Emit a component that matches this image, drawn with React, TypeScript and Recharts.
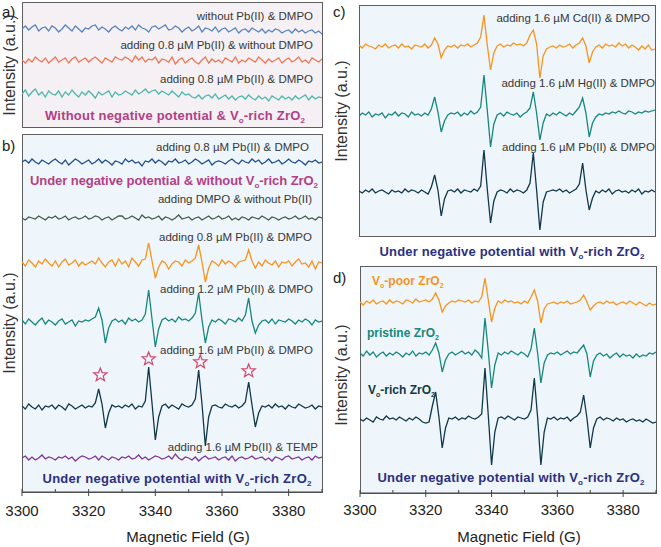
import React from 'react';
import { LineChart, Line, XAxis, YAxis, ReferenceDot } from 'recharts';

// Magnetic field (G), 1 G step
const FIELD = [
  3300, 3301, 3302, 3303, 3304, 3305, 3306, 3307, 3308, 3309,
  3310, 3311, 3312, 3313, 3314, 3315, 3316, 3317, 3318, 3319,
  3320, 3321, 3322, 3323, 3324, 3325, 3326, 3327, 3328, 3329,
  3330, 3331, 3332, 3333, 3334, 3335, 3336, 3337, 3338, 3339,
  3340, 3341, 3342, 3343, 3344, 3345, 3346, 3347, 3348, 3349,
  3350, 3351, 3352, 3353, 3354, 3355, 3356, 3357, 3358, 3359,
  3360, 3361, 3362, 3363, 3364, 3365, 3366, 3367, 3368, 3369,
  3370, 3371, 3372, 3373, 3374, 3375, 3376, 3377, 3378, 3379,
  3380, 3381, 3382, 3383, 3384, 3385, 3386, 3387, 3388, 3389,
  3390,
];
const TICKS = [3300, 3310, 3320, 3330, 3340, 3350, 3360, 3370, 3380, 3390];
const TICK_LABELS = [3300, 3320, 3340, 3360, 3380];

// ---- panel a : without negative potential & Vo-rich ZrO2 ----
const A_NO_PB_NO_DMPO = [
  0, 3, -1, 2, 4, -2, 1, 2, -2, 3,
  1, -3, 0, 4, 1, -2, 3, 0, -3, 1,
  0, 3, 4, -1, 2, 0, -3, 1, 3, 0,
  -2, 2, 0, 3, -1, 4, 1, 0, -3, 2,
  3, 0, 2, 4, -1, 0, 3, 1, -3, 0,
  2, -2, 0, 3, -3, 1, 0, -2, 2, -3,
  0, 1, -3, -1, 1, -4, -1, 0, -3, 1,
  -1, -3, 0, -4, -1, -3, 0, -1, -4, -2,
  -1, -4, 0, -3, -1, -4, -2, -1, -4, -2,
  -5,
];
const A_PB08_NO_DMPO = [
  0, -3, 1, -2, 3, 0, -2, 2, -3, 0,
  3, -2, 0, 2, -3, 1, 3, -2, 0, 2,
  -2, 1, 3, 0, -3, 2, 0, -2, 3, 1,
  0, 3, 1, -2, 4, 0, 3, -2, 1, 0,
  3, -3, 1, 0, -2, 3, -4, 0, 2, -3,
  0, 2, -2, -4, 0, 3, -3, 1, -2, 0,
  -3, 2, 0, -2, 3, -3, 0, -2, 2, 0,
  -2, 3, 0, -3, 1, -2, 0, 2, -3, 0,
  2, -2, 0, 3, -2, 0, -3, 2, 0, -2,
  1,
];
const A_PB08_DMPO = [
  1, 5, -1, 3, 6, 0, 3, -2, 4, 1,
  0, 4, -2, 3, 0, 5, 1, -2, 3, 0,
  4, 1, -3, 3, 0, 2, 4, -2, 3, 0,
  1, 4, 2, 0, 5, 1, 3, 6, 2, 4,
  5, 1, 4, 2, 0, 4, 1, -2, 3, 0,
  1, -2, -3, 0, -4, -1, 0, -3, 1, -4,
  -2, 0, -4, -1, -5, -2, -1, -4, 0, -3,
  -5, -1, -4, -2, -6, -1, -3, -5, -1, -4,
  -2, -5, -1, -4, -2, 0, -5, -1, -4, -2,
  -3,
];

// ---- panel b : under negative potential ----
const B_PB08_DMPO_NO_ZRO2 = [
  0, 2, -1, 3, 0, -2, 2, 0, -2, 1,
  3, 0, -2, 2, -3, 0, 3, 1, -2, 0,
  2, -2, 0, 3, -1, 2, 0, -3, 1, 0,
  -2, 3, 0, 2, -1, 0, -4, 1, 0, 3,
  -1, 2, 0, -3, 1, 0, 3, -1, 0, 2,
  -2, 0, 3, 1, -2, 0, 2, -3, 0, 1,
  0, -2, 1, 3, 0, -2, 2, 0, -1, 3,
  0, 2, -2, 0, 3, -1, 0, 2, -2, 0,
  3, 0, -1, 2, 0, -3, 1, 0, 2, -1,
  0,
];
const B_DMPO_NO_PB = [
  0, -2, 1, 0, -1, 2, 0, -2, 1, 0,
  2, -1, 0, 2, -2, 0, 1, -1, 0, 2,
  -1, 0, 2, 1, -2, 0, 1, -2, 0, 2,
  2, -1, 0, 2, 0, -2, 3, 0, 1, -1,
  0, 2, -2, 1, 0, -2, 0, 3, -1, 0,
  1, -2, 0, 1, -2, 0, 2, -1, 0, 2,
  -1, 0, 2, -2, 0, -2, 1, 0, -2, 1,
  0, -1, 2, 0, -2, 1, 0, -2, 0, 1,
  -1, 0, 2, -1, 0, 2, -1, 0, -2, 1,
  0,
];
const B_PB08_DMPO = [
  1, -3, 3, 0, -4, 2, -1, 4, 0, -3,
  2, -4, 1, 4, -2, 0, 3, -3, 1, -2,
  0, 2, -1, 5, 0, -4, 1, 3, -3, 4,
  -1, 2, -4, 5, 1, -3, 3, 4, 20, 2,
  -15, -4, 2, 0, -6, -1, 2, 1, -3, 3,
  0, 2, 5, 18, 1, -19, -5, 2, 0, -3,
  3, -1, 2, 0, -4, 1, 2, 3, 13, 2,
  -5, 1, -3, 3, 0, -2, 2, -4, 1, 0,
  2, -3, 1, 4, -1, 0, -4, 2, -6, 1,
  0,
];
const B_PB12_DMPO = [
  2, -2, 3, 0, -3, 1, 4, -2, 2, 0,
  -3, 1, 3, -2, 0, 2, -4, 1, 0, 2,
  1, 3, 5, 14, 2, -21, -6, 1, 3, 0,
  2, -2, 4, 1, 3, 0, 2, 8, 32, 3,
  -25, -7, 2, 4, 1, 3, 0, 5, 2, 3,
  1, 4, 9, 29, 2, -21, -5, 2, 0, 3,
  1, -2, 3, 2, 0, 4, 1, 7, 24, 1,
  -11, -3, 1, 2, -1, 3, -2, 2, 1, 0,
  3, 1, -2, 2, 0, 3, 1, -3, 2, 0,
  1,
];
const B_PB16_DMPO = [
  1, -2, 3, 0, -2, 2, -3, 1, 0, 2,
  -2, 2, 0, -3, 3, 1, -2, 0, 2, -1,
  1, 0, 4, 18, 3, -21, -6, 2, 0, 1,
  -1, 2, 0, 3, -2, 1, 0, 6, 40, 4,
  -33, -10, 1, 3, -1, 2, 0, -2, 3, 1,
  0, 2, 8, 37, 3, -39, -10, 1, 2, 0,
  -1, 3, 1, 0, 2, -1, 1, 5, 25, 2,
  -20, -6, 1, 0, 2, -1, 3, 0, 1, -2,
  2, 0, -1, 3, 1, -1, 0, 2, -2, 1,
  0,
];
const B_PB16_TEMP = [
  0, 2, -2, 1, -2, 0, 3, -1, 1, 0,
  -2, 1, 0, 2, -1, 1, -3, 0, 2, 1,
  -1, 0, 2, -2, 2, 0, -2, 1, 0, -2,
  1, 0, 2, -1, 0, 3, -1, 1, -2, 0,
  2, 1, -1, 0, 2, -1, 4, 0, -2, 1,
  0, -2, 1, -3, 0, 2, -1, 0, 1, -2,
  0, 1, -2, 2, -3, 0, 1, -1, 0, 2,
  -1, 0, 1, -2, 0, -3, 1, 0, -2, 1,
  2, -1, 0, 1, -2, 0, 1, -2, 2, 0,
  1,
];
// DMPO-OH quartet markers (field, intensity)
const STAR_FIELD = [3323.5, 3338, 3353.5, 3368];
const STAR_LEVEL = [117, 133, 130, 121];

// ---- panel c : different metal ions, 1.6 µM ----
const C_CD16 = [
  2, -1, 3, 1, 0, -2, 2, 0, 3, -1,
  1, 2, -1, 3, 0, 1, -2, 2, 1, 0,
  3, -1, 2, 9, 3, -11, -3, 1, 0, 2,
  -1, 2, 1, 3, 0, 2, 4, 10, 32, 2,
  -23, -6, 1, 3, 0, 2, 1, 4, 2, 3,
  1, 4, 12, 17, 3, -31, -9, -2, 0, 1,
  -1, 2, 0, 1, 3, -1, 2, 4, 9, 1,
  -16, -5, 0, 2, -1, 3, 1, 2, 0, 4,
  1, 3, -1, 2, 0, -3, 1, -2, 2, -3,
  -2,
];
const C_HG16 = [
  -1, 2, 0, 3, -2, 1, 0, 2, -3, 1,
  0, 3, -1, 2, 1, -2, 3, 0, 1, -1,
  2, 0, 6, 18, 3, -17, -6, 0, 2, 1,
  3, -1, 2, 0, 4, 1, 3, 8, 40, 5,
  -32, -9, 0, 2, -1, 3, 1, 0, 2, -2,
  1, 3, 7, 23, 2, -25, -8, 1, -1, 2,
  0, 3, 1, -1, 2, 0, 4, 8, 17, 2,
  -22, -8, -2, 1, 0, 2, 1, 3, 2, 4,
  2, 1, 4, 3, 1, 3, 2, 4, 3, 4,
  5,
];
const C_PB16 = [
  1, -1, 2, 0, 3, -1, 1, 2, 0, -2,
  2, 0, 1, -1, 3, 0, 2, 1, -1, 2,
  0, -2, 5, 17, 2, -24, -7, 1, 2, 0,
  3, -1, 2, 1, 0, 3, 1, 6, 42, 3,
  -31, -9, 0, 2, 1, -1, 3, 0, 2, 1,
  -1, 2, 9, 39, 2, -38, -10, 0, 1, 2,
  1, 3, 0, 2, -1, 1, 3, 8, 29, 2,
  -18, -6, 1, -1, 2, 0, 3, -2, 1, 2,
  0, 1, -1, 2, 0, 3, -2, 1, 0, 2,
  0,
];

// ---- panel d : different ZrO2 ----
const D_VO_POOR = [
  1, -2, 2, 0, 3, -1, 1, 2, -1, 3,
  0, 2, 1, -1, 3, 2, 0, 4, 1, 2,
  3, 1, 4, 10, 3, -9, -3, 0, 2, 1,
  3, 2, 1, 3, 0, 2, 1, 6, 25, 3,
  -19, -5, 2, 0, 3, 1, 2, 0, 1, -1,
  2, 0, 6, 13, 2, -20, -6, -1, 0, 1,
  -1, 1, 0, 2, -1, 0, 1, 3, 8, 1,
  -7, -3, 0, 1, -1, 2, 0, 1, -2, 0,
  1, -1, 2, 0, -2, 1, -1, -3, 0, -2,
  -1,
];
const D_PRISTINE = [
  2, -1, 4, 0, 3, -2, 1, 3, -1, 2,
  0, 3, 1, -2, 2, 0, 4, -1, 2, 1,
  3, 0, 5, 12, 2, -17, -5, 1, 3, 0,
  2, 4, 1, 3, 0, 5, 2, -3, 37, 4,
  -33, -10, 2, 0, 3, 1, 4, 2, 0, 3,
  1, -2, 6, 27, 2, -28, -8, 0, 2, 1,
  3, 0, 2, 4, 1, 3, 2, 6, 10, 1,
  -22, -6, 0, 2, -1, 1, -3, 0, 2, -2,
  1, -1, 0, -3, 1, -2, 0, -1, 2, 1,
  3,
];
const D_VO_RICH = [
  1, -1, 2, 0, -2, 3, 1, 0, 4, 1,
  2, 0, 3, 1, -1, 2, 0, 3, 1, -2,
  -3, -2, 14, 28, 3, -28, -8, 2, 1, 3,
  0, 2, 1, 4, 2, 1, 3, 6, 52, 5,
  -45, -12, 2, 3, 1, 4, 2, 0, 3, 2,
  1, 3, 10, 42, 3, -45, -12, 2, 1, 3,
  0, 2, 1, 3, -1, 2, 4, 8, 25, 2,
  -28, -8, 1, 3, 0, 2, 1, -1, 2, 0,
  1, -2, 0, 1, -1, 0, -2, 1, -1, -3,
  -2,
];

const FONT = '"Liberation Sans", Arial, Helvetica, sans-serif';
const ORANGE = '#f7941d';
const TEAL = '#17877d';
const NAVY_T = '#10384a';
const MAGENTA = '#b23f86';
const INDIGO = '#2c2f7f';
const LABEL = '#383838';

type Trace = { key: string; values: number[]; base: number; color: string };

const PANELS = [
  {
    id: 'a', left: 22, top: 2, width: 300, height: 125, bg: '#f4f0f4', axis: false,
    traces: [
      { key: 't1', values: A_NO_PB_NO_DMPO, base: 98, color: '#5b82b9' },
      { key: 't2', values: A_PB08_NO_DMPO, base: 67, color: '#ee7656' },
      { key: 't3', values: A_PB08_DMPO, base: 32, color: '#4db6ad' },
    ] as Trace[],
  },
  {
    id: 'b', left: 22, top: 134, width: 300, height: 358, bg: '#eef5fb', axis: true,
    traces: [
      { key: 't1', values: B_PB08_DMPO_NO_ZRO2, base: 330, color: '#1f4f8f' },
      { key: 't2', values: B_DMPO_NO_PB, base: 274, color: '#425c4b' },
      { key: 't3', values: B_PB08_DMPO, base: 229, color: ORANGE },
      { key: 't4', values: B_PB12_DMPO, base: 170, color: TEAL },
      { key: 't5', values: B_PB16_DMPO, base: 85, color: NAVY_T },
      { key: 't6', values: B_PB16_TEMP, base: 34, color: '#7e3592' },
    ] as Trace[],
  },
  {
    id: 'c', left: 359, top: 5, width: 296, height: 231, bg: '#eef5fb', axis: false,
    traces: [
      { key: 't1', values: C_CD16, base: 189, color: ORANGE },
      { key: 't2', values: C_HG16, base: 121, color: TEAL },
      { key: 't3', values: C_PB16, base: 44, color: NAVY_T },
    ] as Trace[],
  },
  {
    id: 'd', left: 360, top: 266, width: 296, height: 227, bg: '#eef5fb', axis: true,
    traces: [
      { key: 't1', values: D_VO_POOR, base: 190, color: ORANGE },
      { key: 't2', values: D_PRISTINE, base: 138, color: TEAL },
      { key: 't3', values: D_VO_RICH, base: 73, color: NAVY_T },
    ] as Trace[],
  },
];

const PAD = 24;
const AXIS_H = 56;

function Star(props: any) {
  const { cx, cy } = props;
  const pts: string[] = [];
  for (let k = 0; k < 10; k++) {
    const ang = (-90 + k * 36) * Math.PI / 180;
    const r = k % 2 === 0 ? 7 : 3;
    pts.push(`${cx + r * Math.cos(ang)},${cy + r * Math.sin(ang)}`);
  }
  return <polygon points={pts.join(' ')} fill="none" stroke="#d2496f" strokeWidth={1.2} />;
}

function makeTick(labelDy: number) {
  return (props: any) => {
    const { x, y, payload } = props;
    const v = payload.value;
    const major = TICK_LABELS.indexOf(v) >= 0;
    return (
      <g>
        <line x1={x} x2={x} y1={y - 3} y2={major ? y + 4 : y} stroke="#444" strokeWidth={1} />
        {major && (
          <text x={x} y={y + labelDy} textAnchor="middle" fontSize={15} fill="#222" fontFamily={FONT}>
            {v}
          </text>
        )}
      </g>
    );
  };
}

function Panel({ p }: { p: (typeof PANELS)[number] }) {
  const rows = FIELD.map((f, i) => {
    const r: any = { f };
    p.traces.forEach((t) => { r[t.key] = t.base + t.values[i]; });
    return r;
  });
  const chartH = p.height + (p.axis ? AXIS_H : 0);
  return (
    <>
      <div
        style={{
          position: 'absolute', left: p.left, top: p.top, width: p.width + 1, height: p.height + 1,
          background: p.bg, border: '1px solid #5e5e5e', boxSizing: 'border-box',
        }}
      />
      <div style={{ position: 'absolute', left: p.left - PAD, top: p.top }}>
        <LineChart
          width={p.width + 2 * PAD}
          height={chartH}
          data={rows}
          margin={{ top: 0, right: PAD, bottom: 0, left: PAD }}
        >
          <XAxis
            dataKey="f"
            type="number"
            domain={[3300, 3390]}
            ticks={TICKS}
            interval={0}
            hide={!p.axis}
            height={AXIS_H}
            tickSize={0}
            tickMargin={0}
            tickLine={false}
            axisLine={{ stroke: '#444' }}
            tick={makeTick(p.id === 'b' ? 24 : 22)}
            allowDataOverflow
          />
          <YAxis type="number" domain={[0, p.height]} hide allowDataOverflow />
          {p.traces.map((t) => (
            <Line
              key={t.key}
              dataKey={t.key}
              type="linear"
              stroke={t.color}
              strokeWidth={1.3}
              dot={false}
              isAnimationActive={false}
            />
          ))}
          {p.id === 'b' &&
            STAR_FIELD.map((f, i) => (
              <ReferenceDot key={i} x={f} y={STAR_LEVEL[i]} r={7} shape={Star} ifOverflow="visible" />
            ))}
        </LineChart>
      </div>
    </>
  );
}

function Vo({ sub = 8, word = 'rich' }: { sub?: number; word?: string }) {
  return (
    <>
      V<tspan fontSize={sub} dy={3}>o</tspan>
      <tspan dy={-3}>-{word} ZrO</tspan>
      <tspan fontSize={sub} dy={3}>2</tspan>
    </>
  );
}

function Label({ x, y, children, anchor = 'end' }: any) {
  return (
    <text x={x} y={y + 4} textAnchor={anchor} fontSize={11.5} fill={LABEL} fontFamily={FONT}>
      {children}
    </text>
  );
}

function YLabel({ x, y }: { x: number; y: number }) {
  return (
    <text
      x={x}
      y={y}
      transform={`rotate(-90 ${x} ${y})`}
      textAnchor="middle"
      dominantBaseline="central"
      fontSize={16}
      fill="#333"
      fontFamily={FONT}
    >
      Intensity (a.u.)
    </text>
  );
}

export default function App() {
  return (
    <div style={{ position: 'absolute', left: 0, top: 0, width: 661, height: 547, background: '#fff', overflow: 'hidden' }}>
      {PANELS.map((p) => (
        <Panel key={p.id} p={p} />
      ))}
      <svg
        width={661}
        height={547}
        style={{ position: 'absolute', left: 0, top: 0, pointerEvents: 'none' }}
        fontFamily={FONT}
      >
        {/* panel letters */}
        <text x={2} y={17} fontSize={15} fill="#222">a)</text>
        <text x={2} y={151} fontSize={15} fill="#222">b)</text>
        <text x={333} y={17} fontSize={15} fill="#222">c)</text>
        <text x={333} y={283} fontSize={15} fill="#222">d)</text>

        <YLabel x={9} y={65} />
        <YLabel x={9} y={323} />
        <YLabel x={341} y={111} />
        <YLabel x={341} y={375} />

        {/* panel a */}
        <Label x={313} y={16}>without Pb(II) &amp; DMPO</Label>
        <Label x={313} y={45}>adding 0.8 µM Pb(II) &amp; without DMPO</Label>
        <Label x={313} y={79}>adding 0.8 µM Pb(II) &amp; DMPO</Label>
        <text x={175} y={120} textAnchor="middle" fontSize={13} fontWeight="bold" fill={MAGENTA} textLength={260} lengthAdjust="spacing">
          Without negative potential &amp; <Vo />
        </text>

        {/* panel b */}
        <Label x={309} y={147}>adding 0.8 µM Pb(II) &amp; DMPO</Label>
        <text x={174} y={185} textAnchor="middle" fontSize={13} fontWeight="bold" fill={MAGENTA} textLength={288} lengthAdjust="spacing">
          Under negative potential &amp; without <Vo />
        </text>
        <Label x={312} y={199}>adding DMPO &amp; without Pb(II)</Label>
        <Label x={312} y={237}>adding 0.8 µM Pb(II) &amp; DMPO</Label>
        <Label x={313} y={289}>adding 1.2 µM Pb(II) &amp; DMPO</Label>
        <Label x={313} y={350}>adding 1.6 µM Pb(II) &amp; DMPO</Label>
        <Label x={318} y={447}>adding 1.6 µM Pb(II) &amp; TEMP</Label>
        <text x={177} y={483} textAnchor="middle" fontSize={13} fontWeight="bold" fill={INDIGO} textLength={269} lengthAdjust="spacing">
          Under negative potential with <Vo />
        </text>
        <text x={188} y={542} textAnchor="middle" fontSize={15} fill="#222">Magnetic Field (G)</text>

        {/* panel c */}
        <Label x={650} y={18}>adding 1.6 µM Cd(II) &amp; DMPO</Label>
        <Label x={655} y={83}>adding 1.6 µM Hg(II) &amp; DMPO</Label>
        <Label x={655} y={147}>adding 1.6 µM Pb(II) &amp; DMPO</Label>
        <text x={512} y={256} textAnchor="middle" fontSize={13} fontWeight="bold" fill={INDIGO} textLength={265} lengthAdjust="spacing">
          Under negative potential with <Vo />
        </text>

        {/* panel d */}
        <text x={372} y={285} fontSize={12} fontWeight="bold" fill={ORANGE}>
          <Vo sub={7} word="poor" />
        </text>
        <text x={367} y={337} fontSize={12} fontWeight="bold" fill={TEAL}>
          pristine ZrO<tspan fontSize={7} dy={3}>2</tspan>
        </text>
        <text x={368} y={394} fontSize={12} fontWeight="bold" fill={NAVY_T}>
          <Vo sub={7} />
        </text>
        <text x={511} y={482} textAnchor="middle" fontSize={13} fontWeight="bold" fill={INDIGO} textLength={267} lengthAdjust="spacing">
          Under negative potential with <Vo />
        </text>
        <text x={519} y={542} textAnchor="middle" fontSize={15} fill="#222">Magnetic Field (G)</text>
      </svg>
    </div>
  );
}
